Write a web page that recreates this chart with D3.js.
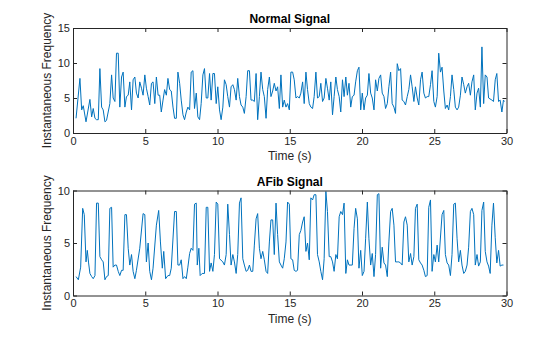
<!DOCTYPE html>
<html><head><meta charset="utf-8">
<script src="https://cdn.jsdelivr.net/npm/d3@7/dist/d3.min.js"></script>
<style>body{margin:0;background:#fff}svg{display:block}text{font-family:"Liberation Sans",Arial,Helvetica,sans-serif}</style>
</head><body><div id="chart"></div>
<script>
// Normal signal
const normalTime = [0.21,0.48,0.60,0.71,0.90,1.17,1.29,1.40,1.52,1.63,1.75,1.86,1.98,2.09,2.21,2.32,2.55,2.67,2.78,2.90,3.01,3.13,3.24,3.36,3.47,3.59,3.70,3.82,3.93,4.05,4.16,4.28,4.39,4.51,4.62,4.74,4.85,4.97,5.08,5.20,5.31,5.43,5.54,5.66,5.77,5.89,6.00,6.11,6.23,6.34,6.46,6.57,6.69,6.80,6.92,7.03,7.15,7.26,7.38,7.49,7.61,7.72,7.84,7.95,8.07,8.18,8.30,8.41,8.53,8.64,8.76,8.87,8.99,9.10,9.22,9.33,
9.45,9.56,9.68,9.79,9.91,10.02,10.14,10.25,10.37,10.48,10.60,10.71,10.83,10.94,11.06,11.17,11.29,11.40,11.52,11.63,11.75,11.86,11.98,12.09,12.21,12.32,12.44,12.55,12.67,12.78,12.90,13.01,13.13,13.24,13.36,13.47,13.59,13.70,13.82,13.93,14.05,14.16,14.28,14.39,14.51,14.62,14.74,14.85,14.97,15.08,15.20,15.31,15.43,15.54,15.66,15.77,15.89,16.00,16.12,16.23,16.35,16.46,16.58,16.69,16.81,16.92,17.04,17.15,17.27,17.38,17.50,17.61,17.73,17.84,17.96,18.07,18.19,18.30,18.42,18.53,18.65,18.76,18.88,18.99,
19.10,19.22,19.33,19.45,19.56,19.68,19.79,19.91,20.02,20.14,20.25,20.37,20.48,20.60,20.71,20.83,20.94,21.06,21.17,21.29,21.40,21.52,21.63,21.75,21.86,21.98,22.09,22.21,22.32,22.44,22.55,22.67,22.78,22.90,23.01,23.13,23.24,23.36,23.47,23.59,23.70,23.82,23.93,24.05,24.16,24.28,24.39,24.51,24.62,24.74,24.85,24.97,25.08,25.20,25.31,25.43,25.54,25.66,25.77,25.89,26.00,26.12,26.23,26.35,26.46,26.58,26.69,26.81,26.92,27.04,27.15,27.27,27.38,27.50,27.61,27.73,27.84,27.96,28.07,28.19,28.30,28.42,28.53,28.65,28.76,28.99,29.10,29.22,29.33,29.45,29.56,29.68,29.79,29.86];
const normalFreq = [2.1,7.8,3.3,3.9,1.6,4.8,2.3,3.5,2.1,1.9,1.9,9.2,3.7,3.3,1.6,1.8,4.2,8.3,5.0,4.5,11.4,11.4,3.7,8.0,8.7,3.7,5.2,5.4,7.3,3.3,7.6,8.0,5.7,5.0,7.3,6.4,5.4,8.3,6.4,5.2,4.0,7.1,7.3,4.2,8.0,5.4,5.4,3.0,4.7,6.2,5.4,7.8,6.2,6.0,3.7,2.1,2.1,8.7,7.1,4.7,2.6,1.9,3.0,3.7,3.3,8.7,8.9,3.5,5.7,2.3,1.9,4.2,8.3,9.2,5.0,5.0,
8.5,4.7,8.5,8.5,4.2,6.6,3.3,1.9,3.7,7.6,6.9,5.2,3.7,6.6,6.9,6.2,4.7,7.8,5.2,4.0,3.7,2.8,5.2,8.9,8.9,4.7,4.7,4.5,8.5,1.9,5.2,8.7,6.2,5.2,2.1,6.2,8.0,5.2,6.0,7.1,6.0,6.6,3.5,8.3,3.7,4.7,3.7,4.2,3.3,8.7,8.7,7.6,5.0,5.2,5.0,5.7,7.3,4.2,8.7,6.2,4.2,3.7,3.5,5.2,8.7,5.0,5.2,7.1,4.5,5.0,7.8,6.4,4.7,7.3,2.6,5.2,8.0,6.2,5.2,3.0,7.6,5.2,8.0,5.4,
7.1,3.7,5.2,5.4,7.3,8.9,9.4,3.3,5.7,3.3,5.0,5.4,8.5,5.7,5.0,3.3,7.6,6.0,7.8,8.3,5.7,5.2,3.5,4.2,6.6,8.7,4.2,3.7,2.8,9.9,8.9,9.2,4.7,4.5,4.0,5.2,6.2,8.3,6.6,4.5,6.6,5.0,4.0,7.6,8.7,5.7,5.0,5.2,5.2,6.9,8.9,4.5,3.7,5.2,11.4,8.7,9.4,6.0,3.5,4.0,3.3,5.2,8.3,6.2,3.7,3.3,3.7,5.4,8.0,6.9,5.7,6.6,7.1,5.4,7.3,8.3,3.3,5.7,6.4,3.7,12.3,4.2,8.3,8.0,5.0,4.7,4.5,7.6,8.5,4.5,4.7,3.0,4.7,4.5];

// AFib signal
const afibTime = [0.21,0.37,0.53,0.67,0.78,0.90,0.99,1.08,1.17,1.29,1.40,1.52,1.63,1.75,1.86,1.98,2.09,2.21,2.32,2.44,2.55,2.67,2.78,2.90,3.01,3.13,3.24,3.36,3.47,3.59,3.70,3.82,3.93,4.05,4.16,4.28,4.39,4.62,4.85,4.97,5.08,5.20,5.31,5.43,5.54,5.77,5.93,6.05,6.18,6.28,6.41,6.57,6.69,6.80,7.03,7.15,7.26,7.38,7.49,7.61,7.72,7.84,7.95,8.07,8.18,8.30,8.41,8.53,8.60,8.71,8.80,8.94,9.10,9.22,9.33,9.45,9.56,9.68,9.79,9.91,10.02,
10.14,10.37,10.48,10.60,10.71,10.83,10.94,11.06,11.17,11.29,11.40,11.52,11.63,11.75,11.86,11.98,12.09,12.21,12.32,12.44,12.55,12.67,12.78,12.90,13.01,13.13,13.24,13.36,13.47,13.59,13.70,13.82,13.93,14.05,14.16,14.28,14.39,14.51,14.62,14.74,14.85,14.97,15.08,15.20,15.31,15.43,15.54,15.66,15.77,15.89,16.00,16.12,16.23,16.35,16.46,16.58,16.69,16.81,16.92,17.04,17.15,17.27,17.38,17.50,17.61,17.73,17.84,17.96,18.07,18.19,18.30,18.42,18.53,18.65,18.76,18.88,18.99,
19.10,19.33,19.45,19.56,19.68,19.79,19.91,20.02,20.14,20.25,20.37,20.48,20.60,20.71,20.83,20.94,21.06,21.17,21.29,21.40,21.52,21.63,21.75,21.86,21.98,22.09,22.21,22.32,22.44,22.55,22.67,22.78,22.90,23.01,23.13,23.24,23.36,23.47,23.59,23.70,23.82,23.93,24.05,24.16,24.28,24.39,24.51,24.62,24.74,24.85,24.97,25.08,25.20,25.31,25.54,25.66,25.77,25.89,26.00,26.12,26.23,26.35,26.46,26.58,26.69,26.81,26.92,27.04,27.15,27.27,27.38,27.50,27.61,27.73,27.84,27.96,28.07,28.19,28.30,28.42,28.53,28.65,28.76,28.87,28.99,29.10,29.22,29.33,29.45,29.56,29.68,29.79];
const afibFreq = [1.8,1.5,2.7,8.3,7.7,3.2,4.3,3.1,2.1,1.8,1.6,1.9,8.8,8.8,3.7,3.4,3.2,1.5,1.8,1.9,8.3,8.4,2.7,2.9,2.9,2.3,1.9,2.4,2.4,7.7,7.7,4.5,2.9,3.9,2.3,1.6,2.4,4.5,7.8,7.7,3.2,5.0,2.3,1.5,2.6,6.7,8.1,5.1,2.6,4.2,1.6,1.9,1.9,2.6,8.0,8.0,2.9,2.9,3.4,1.6,1.8,1.6,2.7,4.0,4.5,4.3,8.7,8.8,2.9,4.5,1.9,2.1,2.1,8.4,8.4,2.3,3.1,2.3,3.9,8.9,8.7,
3.5,3.2,2.9,3.9,8.7,5.8,2.9,3.9,3.2,2.1,3.9,8.8,9.3,3.5,2.9,2.3,2.4,2.9,2.3,2.3,4.8,7.3,7.8,4.5,3.5,4.2,3.4,2.3,2.1,5.1,7.2,7.2,3.9,8.8,5.8,3.2,2.9,2.6,3.5,5.1,8.9,8.7,3.5,3.4,2.4,2.3,2.4,5.8,6.2,7.0,7.5,4.2,5.0,3.4,9.3,9.1,9.6,9.6,3.9,3.2,2.3,1.5,3.5,9.9,8.0,3.7,3.7,3.2,2.3,3.9,3.5,7.5,8.0,7.7,8.8,2.1,3.4,
2.9,2.9,6.4,8.3,7.3,2.6,4.3,1.9,2.3,5.4,8.9,5.4,2.9,4.0,1.8,3.9,9.6,9.7,2.6,4.6,3.1,2.9,1.8,5.1,8.0,8.3,6.7,3.2,3.2,3.2,3.1,2.9,7.0,7.5,6.7,3.2,4.0,2.9,3.7,8.3,8.7,3.4,3.1,2.9,2.4,1.8,1.9,8.4,9.1,2.3,3.9,3.2,4.8,3.2,7.7,8.1,3.9,3.1,2.9,1.9,3.9,8.7,8.8,5.4,3.2,4.3,2.9,2.1,2.3,2.9,4.6,8.0,8.3,7.7,2.9,3.9,2.8,3.2,8.1,8.9,4.2,3.2,2.8,2.1,6.7,8.8,5.5,3.1,4.3,2.8,2.9,2.9];

const xTicks = [0,5,10,15,20,25,30];
const normalYTicks = [0,5,10,15];
const afibYTicks = [0,5,10];

const W = 560, H = 337;
const svg = d3.select("#chart").append("svg").attr("width", W).attr("height", H);

const panels = [
  {title:"Normal Signal", t:normalTime, v:normalFreq, ymax:15, yt:normalYTicks, top:28, bottom:133},
  {title:"AFib Signal", t:afibTime, v:afibFreq, ymax:10, yt:afibYTicks, top:190.5, bottom:295.5}
];
const left = 73, right = 506.5;
const axisCol = "#262626";

panels.forEach(p => {
  const x = d3.scaleLinear().domain([0,30]).range([left,right]);
  const y = d3.scaleLinear().domain([0,p.ymax]).range([p.bottom,p.top]);
  const g = svg.append("g");

  const data = p.t.map((t,i)=>({t, v:p.v[i]}));
  g.append("path").datum(data)
    .attr("fill","none").attr("stroke","#0072BD").attr("stroke-width",1)
    .attr("stroke-linejoin","round")
    .attr("d", d3.line().x(d=>x(d.t)).y(d=>y(d.v)));

  const tickLen = 4;
  const style = sel => {
    sel.select(".domain").attr("stroke", axisCol);
    sel.selectAll(".tick line").attr("stroke", axisCol);
    sel.selectAll("text").attr("fill", axisCol).style("font-size","11px")
      .style("font-family",'"Liberation Sans",Arial,sans-serif');
  };
  g.append("g").attr("transform",`translate(0,${p.bottom})`)
    .call(d3.axisBottom(x).tickValues(xTicks).tickSize(-tickLen).tickPadding(4).tickSizeOuter(0))
    .call(style);
  g.append("g").attr("transform",`translate(0,${p.top})`)
    .call(d3.axisTop(x).tickValues(xTicks).tickSize(-tickLen).tickFormat("").tickSizeOuter(0))
    .call(style);
  g.append("g").attr("transform",`translate(${left},0)`)
    .call(d3.axisLeft(y).tickValues(p.yt).tickSize(-tickLen).tickPadding(3).tickSizeOuter(0))
    .call(style);
  g.append("g").attr("transform",`translate(${right},0)`)
    .call(d3.axisRight(y).tickValues(p.yt).tickSize(-tickLen).tickFormat("").tickSizeOuter(0))
    .call(style);

  g.append("text").attr("x",(left+right)/2).attr("y",p.top-5)
    .attr("text-anchor","middle").attr("fill","#000")
    .style("font-size","12px").style("font-weight","bold").text(p.title);
  g.append("text").attr("x",(left+right)/2).attr("y",p.bottom+27)
    .attr("text-anchor","middle").attr("fill",axisCol)
    .style("font-size","12px").text("Time (s)");
  g.append("text").attr("transform",`translate(51,${(p.top+p.bottom)/2}) rotate(-90)`)
    .attr("text-anchor","middle").attr("fill",axisCol)
    .style("font-size","12px").text("Instantaneous Frequency");
});
</script></body></html>
